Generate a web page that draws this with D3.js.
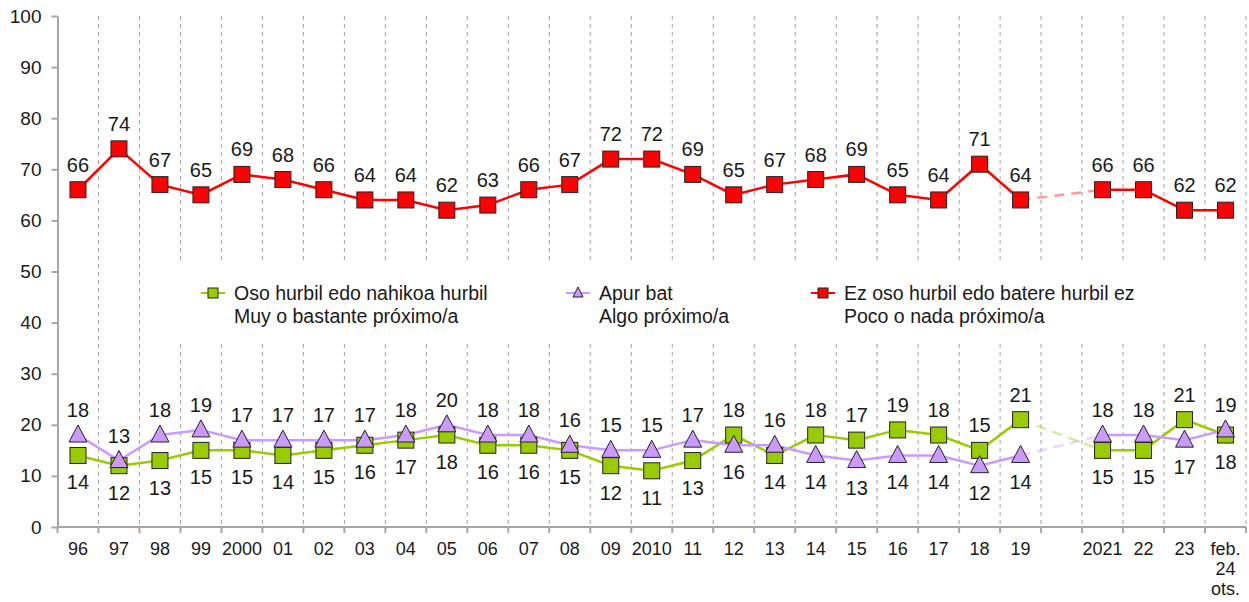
<!DOCTYPE html>
<html>
<head>
<meta charset="utf-8">
<script src="https://cdn.jsdelivr.net/npm/d3@7"></script>
<style>
  body { margin: 0; background: #fff; }
  text { font-family: 'Liberation Sans', Arial, sans-serif; fill: #1a1a1a; }
</style>
</head>
<body>
<div id="chart"></div>
<script>
let years = ['96', '97', '98', '99', '2000', '01', '02', '03', '04', '05', '06', '07', '08', '09', '2010', '11', '12', '13', '14', '15', '16', '17', '18', '19', '', '2021', '22', '23', 'feb.|24|ots.']

let farValues = [66, 74, 67, 65, 69, 68, 66, 64, 64, 62, 63, 66, 67, 72, 72, 69, 65, 67, 68, 69, 65, 64, 71, 64, null, 66, 66, 62, 62]
let closeValues = [14, 12, 13, 15, 15, 14, 15, 16, 17, 18, 16, 16, 15, 12, 11, 13, 18, 14, 18, 17, 19, 18, 15, 21, null, 15, 15, 21, 18]
let someValues = [18, 13, 18, 19, 17, 17, 17, 17, 18, 20, 18, 18, 16, 15, 15, 17, 16, 16, 14, 13, 14, 14, 12, 14, null, 18, 18, 17, 19]

let legendLabels = [
  ['Oso hurbil edo nahikoa hurbil', 'Muy o bastante próximo/a'],
  ['Apur bat', 'Algo próximo/a'],
  ['Ez oso hurbil edo batere hurbil ez', 'Poco o nada próximo/a']
]

let width = 1249
let height = 602
let margin = { top: 16, left: 57.5, right: 3, bottom: 75 }

let svg = d3
  .select('#chart')
  .append('svg')
  .attr('width', width)
  .attr('height', height)

let x = d3
  .scaleBand()
  .domain(d3.range(years.length))
  .range([margin.left, width - margin.right])

let y = d3
  .scaleLinear()
  .domain([0, 100])
  .range([height - margin.bottom, margin.top])

let series = [
  { key: 'close', values: closeValues, color: '#99cc00', shape: 'square' },
  { key: 'some', values: someValues, color: '#cc99ff', shape: 'triangle' },
  { key: 'far', values: farValues, color: '#ff0000', shape: 'square' }
]

// dashed grid lines on the category boundaries
let bounds = d3.range(1, years.length + 1).map(i => margin.left + i * x.step())

svg
  .selectAll('.grid')
  .data(bounds)
  .enter()
  .append('line')
  .attr('class', 'grid')
  .attr('x1', d => d)
  .attr('x2', d => d)
  .attr('y1', y(100))
  .attr('y2', y(0))
  .attr('stroke', '#a0a0a0')
  .attr('stroke-width', 1)
  .attr('stroke-dasharray', '4,4')

// ticks below the x axis
svg
  .selectAll('.xtick')
  .data([margin.left].concat(bounds))
  .enter()
  .append('line')
  .attr('class', 'xtick')
  .attr('x1', d => d)
  .attr('x2', d => d)
  .attr('y1', y(0))
  .attr('y2', y(0) + 6)
  .attr('stroke', '#a6a6a6')
  .attr('stroke-width', 2)

// y axis
let yAxis = svg
  .append('g')
  .attr('transform', `translate(${margin.left},0)`)
  .call(d3.axisLeft(y).ticks(10).tickSize(6).tickSizeOuter(0).tickPadding(10))

yAxis.select('.domain').attr('stroke', '#a6a6a6').attr('stroke-width', 2)
yAxis.selectAll('.tick line').attr('stroke', '#a6a6a6').attr('stroke-width', 2)
yAxis
  .selectAll('.tick text')
  .style('font-size', '19px')
  .attr('font-family', null)
  .attr('fill', '#1a1a1a')

// x axis line
svg
  .append('line')
  .attr('x1', margin.left)
  .attr('x2', width - margin.right)
  .attr('y1', y(0))
  .attr('y2', y(0))
  .attr('stroke', '#a6a6a6')
  .attr('stroke-width', 2)

// x labels
svg
  .selectAll('.xlabel')
  .data(years)
  .enter()
  .append('text')
  .attr('class', 'xlabel')
  .attr('text-anchor', 'middle')
  .style('font-size', '18px')
  .each(function(d, i) {
    let t = d3.select(this)
    d.split('|').forEach((line, j) => {
      t.append('tspan')
        .attr('x', x(i) + x.bandwidth() / 2)
        .attr('y', 555 + j * 20)
        .text(line)
    })
  })

// legend box hides the grid behind it
let legend = svg.append('g')

legend
  .append('rect')
  .attr('x', 150)
  .attr('y', 263)
  .attr('width', 1075)
  .attr('height', 80)
  .attr('fill', '#fff')

let legendX = [213, 578, 823]

function drawMarker(g, shape, color, cx, cy) {
  if (shape === 'square') {
    g.append('rect')
      .attr('x', cx - 8)
      .attr('y', cy - 8)
      .attr('width', 16)
      .attr('height', 16)
      .attr('fill', color)
      .attr('stroke', '#222')
      .attr('stroke-width', 1)
  } else {
    g.append('path')
      .attr('d', `M${cx},${cy - 10}L${cx + 9},${cy + 7}L${cx - 9},${cy + 7}Z`)
      .attr('fill', color)
      .attr('stroke', '#222')
      .attr('stroke-width', 1)
  }
}

series.forEach((s, i) => {
  let g = legend.append('g')
  let cx = legendX[i]
  g.append('line')
    .attr('x1', cx - 12)
    .attr('x2', cx + 12)
    .attr('y1', 293)
    .attr('y2', 293)
    .attr('stroke', s.color)
    .attr('stroke-width', 2)
  if (s.shape === 'square') {
    g.append('rect')
      .attr('x', cx - 5)
      .attr('y', 288)
      .attr('width', 10)
      .attr('height', 10)
      .attr('fill', s.color)
      .attr('stroke', '#222')
      .attr('stroke-width', 1)
  } else {
    g.append('path')
      .attr('d', `M${cx},${287}L${cx + 5},${297}L${cx - 5},${297}Z`)
      .attr('fill', s.color)
      .attr('stroke', '#222')
      .attr('stroke-width', 1)
  }
  legendLabels[i].forEach((line, j) => {
    g.append('text')
      .attr('x', cx + 21)
      .attr('y', 300 + j * 23)
      .style('font-size', '19.5px')
      .text(line)
  })
})

// lines
let line = d3
  .line()
  .defined(d => d.v !== null)
  .x(d => x(d.i) + x.bandwidth() / 2)
  .y(d => y(d.v))

let gapIndex = years.indexOf('')

series.forEach(s => {
  let pts = s.values.map((v, i) => ({ i: i, v: v }))

  // faded dashed bridge over the missing year
  let a = pts[gapIndex - 1]
  let b = pts[gapIndex + 1]
  svg
    .append('line')
    .attr('x1', x(a.i) + x.bandwidth() / 2)
    .attr('y1', y(a.v))
    .attr('x2', x(b.i) + x.bandwidth() / 2)
    .attr('y2', y(b.v))
    .attr('stroke', s.color)
    .attr('stroke-opacity', 0.4)
    .attr('stroke-width', 2.5)
    .attr('stroke-dasharray', '10,7')

  svg
    .append('path')
    .datum(pts)
    .attr('d', line)
    .attr('fill', 'none')
    .attr('stroke', s.color)
    .attr('stroke-width', 2.5)
})

// markers
series.forEach(s => {
  let g = svg.append('g')
  s.values.forEach((v, i) => {
    if (v === null) return
    drawMarker(g, s.shape, s.color, x(i) + x.bandwidth() / 2, y(v))
  })
})

// value labels: the higher of the two low series goes above, the other below
let labels = svg.append('g').style('font-size', '20px').attr('text-anchor', 'middle')

years.forEach((yr, i) => {
  if (farValues[i] === null) return
  let cx = x(i) + x.bandwidth() / 2
  labels
    .append('text')
    .attr('x', cx)
    .attr('y', y(farValues[i]) - 18)
    .text(farValues[i])

  let closeUp = closeValues[i] > someValues[i]
  labels
    .append('text')
    .attr('x', cx)
    .attr('y', closeUp ? y(closeValues[i]) - 18 : y(closeValues[i]) + 34)
    .text(closeValues[i])
  labels
    .append('text')
    .attr('x', cx)
    .attr('y', closeUp ? y(someValues[i]) + 34 : y(someValues[i]) - 18)
    .text(someValues[i])
})
</script>
</body>
</html>
